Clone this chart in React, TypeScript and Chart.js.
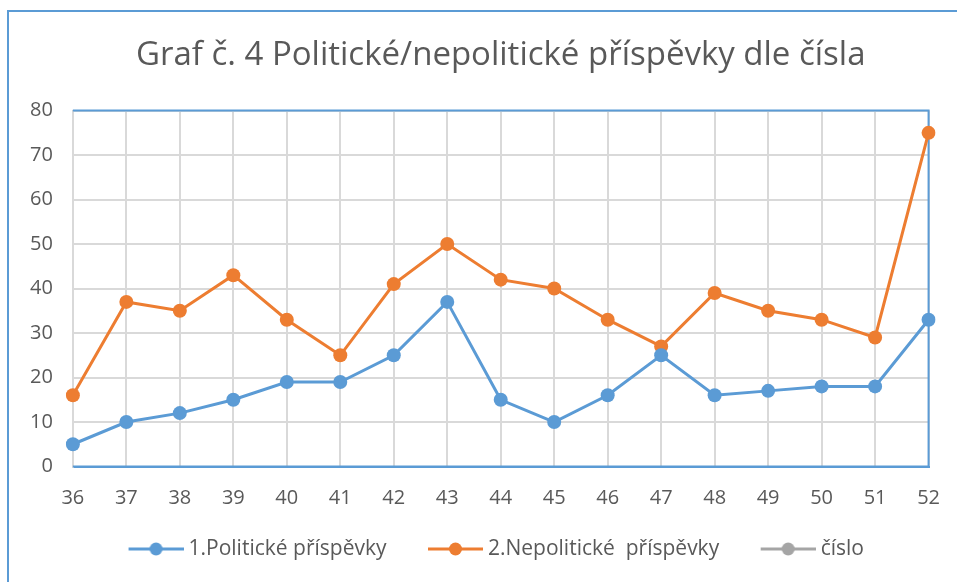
import React, { useEffect, useRef } from "react";
import { Chart, registerables } from "chart.js";

Chart.register(...registerables);

const categories = ["36","37","38","39","40","41","42","43","44","45","46","47","48","49","50","51","52"];
const politicke = [5, 10, 12, 15, 19, 19, 25, 37, 15, 10, 16, 25, 16, 17, 18, 18, 33];
const nepoliticke = [16, 37, 35, 43, 33, 25, 41, 50, 42, 40, 33, 27, 39, 35, 33, 29, 75];
const cislo: (number | null)[] = [];
const seriesNames = ["1.Politické příspěvky", "2.Nepolitické  příspěvky", "číslo"];
const seriesColors = ["#5B9BD5", "#ED7D31", "#A5A5A5"];
const titleText = "Graf č. 4 Politické/nepolitické příspěvky dle čísla";

const FONT = "'Open Sans', 'Liberation Sans', sans-serif";
const TEXT = "#595959";

// legend marker: transparent left margin + line with a dot
const MARGIN = 37;
const LINE = 55;
function legendImage(color: string) {
  const c = document.createElement("canvas");
  c.width = MARGIN + LINE;
  c.height = 16;
  const ctx = c.getContext("2d")!;
  ctx.strokeStyle = color;
  ctx.lineWidth = 3;
  ctx.beginPath();
  ctx.moveTo(MARGIN, 8);
  ctx.lineTo(MARGIN + LINE, 8);
  ctx.stroke();
  ctx.fillStyle = color;
  ctx.beginPath();
  ctx.arc(MARGIN + LINE / 2, 8, 6.5, 0, Math.PI * 2);
  ctx.fill();
  return c;
}

const frame = {
  id: "frame",
  afterLayout(chart: any) {
    if (chart.legend) {
      chart.legend.left += 8;
      chart.legend.right += 8;
    }
  },
  beforeDatasetsDraw(chart: any) {
    const { ctx, chartArea } = chart;
    ctx.save();
    ctx.strokeStyle = "#5B9BD5";
    ctx.lineWidth = 2;
    ctx.beginPath();
    ctx.moveTo(chartArea.left, chartArea.top);
    ctx.lineTo(chartArea.right, chartArea.top);
    ctx.lineTo(chartArea.right, chartArea.bottom);
    ctx.lineTo(chartArea.left, chartArea.bottom);
    ctx.stroke();
    ctx.restore();
  },
};

export default function App() {
  const ref = useRef<HTMLCanvasElement>(null);
  useEffect(() => {
    const imgs = seriesColors.map(legendImage);
    const data = [politicke, nepoliticke, cislo];
    const chart = new Chart(ref.current!, {
      type: "line",
      data: {
        labels: categories,
        datasets: data.map((d, i) => ({
          label: seriesNames[i],
          data: d,
          borderColor: seriesColors[i],
          backgroundColor: seriesColors[i],
          borderWidth: 3,
          pointRadius: 7,
          pointHoverRadius: 7,
          pointBorderWidth: 0,
          tension: 0,
        })),
      },
      options: {
        animation: false,
        responsive: false,
        maintainAspectRatio: false,
        layout: { padding: { left: 1, right: 22, bottom: 12.5, top: 0 } },
        plugins: {
          title: {
            display: true,
            text: titleText,
            color: TEXT,
            fullSize: false,
            font: { family: FONT, size: 33, weight: "normal" },
            padding: { top: 24, bottom: 35 },
          },
          legend: {
            position: "bottom",
            labels: {
              usePointStyle: true,
              pointStyleWidth: MARGIN + LINE - 11,
              boxHeight: 16,
              padding: 10,
              color: TEXT,
              font: { family: FONT, size: 21 },
              generateLabels: (c: any) => {
                const items = (Chart.defaults.plugins.legend.labels as any).generateLabels(c);
                items.forEach((it: any, i: number) => (it.pointStyle = imgs[i]));
                return items;
              },
            },
          },
          tooltip: { enabled: false },
        },
        scales: {
          x: {
            offset: false,
            grid: { color: "#D9D9D9", lineWidth: 2, drawTicks: true, tickLength: 3, tickColor: "rgba(0,0,0,0)" },
            border: { color: "#5B9BD5", width: 2 },
            ticks: { color: TEXT, font: { family: FONT, size: 20 }, padding: 17, maxRotation: 0 },
            afterFit: (scale: any) => {
              scale.height = 62;
            },
          },
          y: {
            min: 0,
            max: 80,
            grid: { color: "#D9D9D9", lineWidth: 2, drawTicks: false },
            border: { color: "#D9D9D9", width: 2 },
            ticks: { stepSize: 10, color: TEXT, font: { family: FONT, size: 20 }, padding: 20 },
          },
        },
      },
      plugins: [frame],
    });
    return () => chart.destroy();
  }, []);
  return (
    <div
      style={{
        position: "fixed",
        top: 10,
        left: 7,
        borderTop: "2px solid #5B9BD5",
        borderLeft: "2px solid #5B9BD5",
        width: 948,
        height: 570,
        boxSizing: "content-box",
      }}
    >
      <canvas ref={ref} width={948} height={570} style={{ display: "block" }} />
    </div>
  );
}
